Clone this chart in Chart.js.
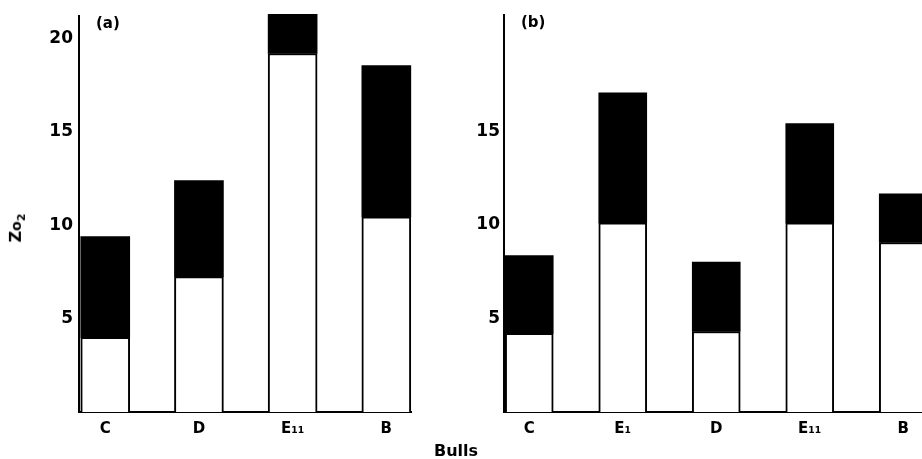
<!DOCTYPE html>
<html>
<head>
<meta charset="utf-8">
<script src="https://cdn.jsdelivr.net/npm/chart.js@4"></script>
<style>
  html, body { margin:0; padding:0; background:#fff; width:922px; height:459px; overflow:hidden; position:relative; font-family:"DejaVu Sans", sans-serif; color:#000; }
  .box { position:absolute; }
  .txt { position:absolute; white-space:nowrap; font-weight:bold; }
</style>
</head>
<body>
<div class="box" style="left:0;top:0;width:412px;height:459px;"><canvas id="ca"></canvas></div>
<div class="box" style="left:470px;top:0;width:470px;height:459px;"><canvas id="cb"></canvas></div>
<div class="txt" style="left:96px;top:14px;font-size:15px;">(a)</div>
<div class="txt" style="left:521px;top:13px;font-size:15px;">(b)</div>
<div class="txt" style="left:434px;top:441px;font-size:16px;">Bulls</div>
<div class="txt" style="left:17px;top:228px;font-size:16px;transform:translate(-50%,-50%) rotate(-90deg);">Z<span style="font-size:14px">o</span><sub style="font-size:11px">2</sub></div>
<script>
// Panel (a)
const catsA  = ['C', 'D', 'E\u2081\u2081', 'B'];
const lowerA = [4.0, 7.25, 19.2, 10.45];   // white part
const upperA = [5.4, 5.15, 2.1, 8.1];      // black part stacked on top
const yTicksA = [5, 10, 15, 20];

// Panel (b)
const catsB  = ['C', 'E\u2081', 'D', 'E\u2081\u2081', 'B'];
const lowerB = [4.2, 10.1, 4.3, 10.1, 9.05];
const upperB = [4.15, 6.95, 3.7, 5.3, 2.6];
const yTicksB = [5, 10, 15];

const FONT = "'DejaVu Sans', sans-serif";

function makeChart(id, cats, lower, upper, yTicks, xMin, xMax, yWidth, barW, yPad) {
  const pts = arr => arr.map((v, i) => ({x: i, y: v}));
  return new Chart(document.getElementById(id), {
    type: 'bar',
    data: {
      datasets: [
        { data: pts(lower), backgroundColor: '#fff', borderColor: '#000', borderWidth: 2,
          barThickness: barW, clip: false },
        { data: pts(upper), backgroundColor: '#000', borderColor: '#000', borderWidth: 0,
          barThickness: barW, clip: false }
      ]
    },
    options: {
      responsive: true, maintainAspectRatio: false, animation: false,
      layout: { padding: { top: 15, right: 0, bottom: 0, left: 0 } },
      plugins: { legend: { display: false }, tooltip: { enabled: false } },
      scales: {
        x: {
          type: 'linear', stacked: true, min: xMin, max: xMax, offset: false,
          grid: { display: false, drawTicks: false, offset: false },
          border: { display: true, color: '#000', width: 2 },
          afterBuildTicks: s => { s.ticks = cats.map((_, i) => ({ value: i })); },
          afterFit: s => { s.height = 47; },
          ticks: {
            autoSkip: false, maxRotation: 0, padding: 8, color: '#000',
            font: { family: FONT, size: 15, weight: 'bold' },
            callback: v => cats[v]
          }
        },
        y: {
          type: 'linear', stacked: true, min: 0, max: 21.2,
          grid: { display: false, drawTicks: false },
          border: { display: true, color: '#000', width: 2 },
          afterBuildTicks: s => { s.ticks = yTicks.map(v => ({ value: v })); },
          afterFit: s => { s.width = yWidth; },
          ticks: {
            padding: yPad, color: '#000',
            font: { family: FONT, size: 17, weight: 'bold' }
          }
        }
      }
    }
  });
}

makeChart('ca', catsA, lowerA, upperA, yTicksA, -0.28, 3.274, 79, 49, 6);
makeChart('cb', catsB, lowerB, upperB, yTicksB, -0.27, 4.393, 34, 48, 4);
</script>
</body>
</html>
